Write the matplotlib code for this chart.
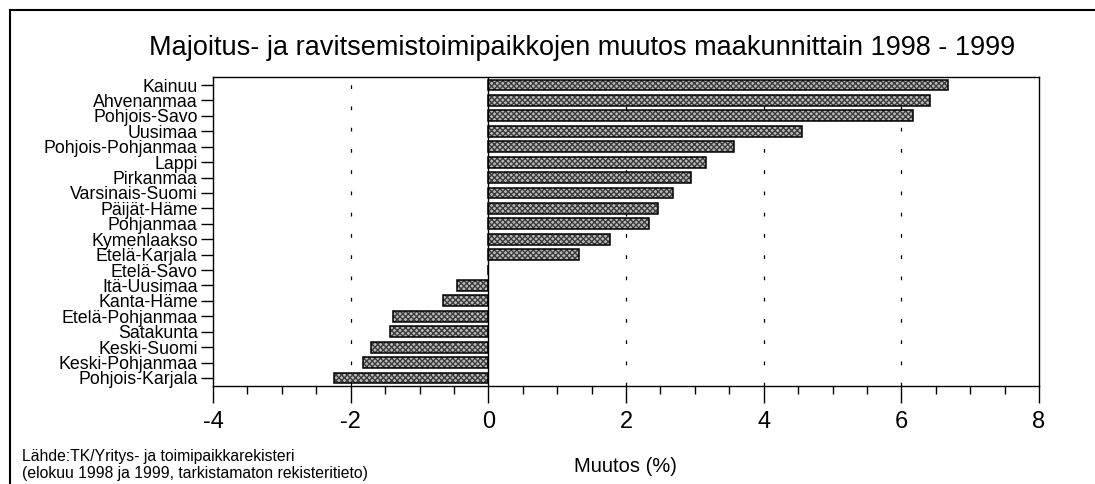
import matplotlib.pyplot as plt
import numpy as np
from matplotlib.lines import Line2D
from matplotlib.ticker import MultipleLocator

plt.rcParams['font.family'] = ['Liberation Sans', 'DejaVu Sans']

# maakunnat ja muutos (%) 1998 -> 1999
regions = ['Kainuu', 'Ahvenanmaa', 'Pohjois-Savo', 'Uusimaa', 'Pohjois-Pohjanmaa',
           'Lappi', 'Pirkanmaa', 'Varsinais-Suomi', 'Päijät-Häme', 'Pohjanmaa',
           'Kymenlaakso', 'Etelä-Karjala', 'Etelä-Savo', 'Itä-Uusimaa', 'Kanta-Häme',
           'Etelä-Pohjanmaa', 'Satakunta', 'Keski-Suomi', 'Keski-Pohjanmaa',
           'Pohjois-Karjala']
change = [6.68, 6.41, 6.17, 4.55, 3.57, 3.16, 2.95, 2.68, 2.46, 2.34,
          1.77, 1.32, 0.0, -0.46, -0.66, -1.39, -1.43, -1.70, -1.82, -2.24]
x_ticks = [-4, -2, 0, 2, 4, 6, 8]
grid_at = [-2, 2, 4, 6]

title = 'Majoitus- ja ravitsemistoimipaikkojen muutos maakunnittain 1998 - 1999'
source = 'Lähde:TK/Yritys- ja toimipaikkarekisteri\n(elokuu 1998 ja 1999, tarkistamaton rekisteritieto)'

fig = plt.figure(figsize=(10.95, 4.84), dpi=100)
ax = fig.add_axes([213 / 1095, 1 - 386 / 484, (1039 - 213) / 1095, (386 - 77) / 484])

y = np.arange(len(regions))

# stippled fill, then black outline on top
ax.barh(y, change, height=0.7, color='#bcbcbc', edgecolor='#3c3c3c',
        hatch='xxxxxx', linewidth=0, zorder=2)
ax.barh(y, change, height=0.7, fill=False, edgecolor='black',
        linewidth=1.1, zorder=3)

for g in grid_at:
    ax.axvline(g, color='black', lw=0.9, linestyle=(0, (3, 14)), zorder=1)
ax.axvline(0, color='black', lw=1.0, zorder=4)

ax.set_xlim(-4, 8)
ax.set_ylim(len(regions) - 0.48, -0.52)
ax.set_xticks(x_ticks)
ax.set_xticklabels([str(t) for t in x_ticks])
ax.xaxis.set_minor_locator(MultipleLocator(0.5))
ax.set_yticks(y)
ax.set_yticklabels(regions)

ax.tick_params(axis='x', which='major', direction='out', length=12, width=1,
               labelsize=17, pad=6)
ax.tick_params(axis='x', which='minor', direction='out', length=6, width=1)
ax.tick_params(axis='y', direction='out', length=9, width=1,
               labelsize=12.8, pad=2)

for s in ax.spines.values():
    s.set_linewidth(1.0)

fig.text(582 / 1095, 1 - 48 / 484, title, ha='center', va='center', fontsize=19.5)
fig.text(625 / 1095, 1 - 467 / 484, 'Muutos (%)', ha='center', va='center', fontsize=14.5)
fig.text(22 / 1095, 1 - 465 / 484, source, ha='left', va='center', fontsize=11.3,
         linespacing=1.1)

# outer frame (only top and left edges visible)
fig.add_artist(Line2D([10 / 1095, 1], [1 - 10 / 484, 1 - 10 / 484],
                      transform=fig.transFigure, color='black', lw=1.5))
fig.add_artist(Line2D([10 / 1095, 10 / 1095], [0, 1 - 10 / 484],
                      transform=fig.transFigure, color='black', lw=1.5))

fig.savefig('out.png', dpi=100)
